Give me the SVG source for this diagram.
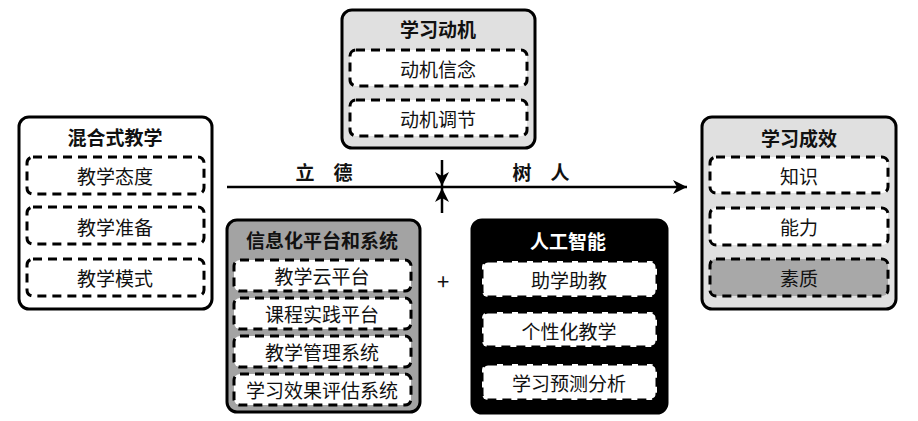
<svg xmlns="http://www.w3.org/2000/svg" width="918" height="421" viewBox="0 0 918 421">
<style>
.outer{stroke:#000;stroke-width:3;}
.item{fill:#fff;stroke:#000;stroke-width:3;stroke-dasharray:9 6;}
.t{font-family:"Noto Sans CJK SC","Liberation Sans",sans-serif;font-size:19px;text-anchor:middle;dominant-baseline:central;fill:#111;}
.h{font-weight:bold;}
.w{fill:#fff;}
.ln{stroke:#000;stroke-width:2.5;fill:none;}
</style>
<defs>
<marker id="arr" markerUnits="userSpaceOnUse" markerWidth="16" markerHeight="16" refX="14" refY="8" orient="auto">
<path d="M0,1 L14,8 L0,15 L4,8 z" fill="#000"/>
</marker>
</defs>
<rect width="918" height="421" fill="#fff"/>

<g id="connectors">
<line class="ln" x1="227" y1="187" x2="687" y2="187" marker-end="url(#arr)"/>
<line class="ln" x1="442" y1="160" x2="442" y2="186" marker-end="url(#arr)"/>
<line class="ln" x1="442" y1="213" x2="442" y2="188" marker-end="url(#arr)"/>
<text class="t h" x="305" y="171">立</text>
<text class="t h" x="343" y="171">德</text>
<text class="t h" x="522" y="171">树</text>
<text class="t h" x="560" y="171">人</text>
<text class="t" x="443" y="280" style="font-size:22px">+</text>
</g>

<g id="blended">
<rect class="outer" x="19" y="117" width="193" height="192" rx="10" fill="#fff"/>
<text class="t h" x="115" y="136">混合式教学</text>
<rect class="item" x="27" y="157" width="177" height="37" rx="6"/>
<text class="t" x="115" y="175">教学态度</text>
<rect class="item" x="27" y="207" width="177" height="37" rx="6"/>
<text class="t" x="115" y="226">教学准备</text>
<rect class="item" x="27" y="259" width="177" height="37" rx="6"/>
<text class="t" x="115" y="277">教学模式</text>
</g>

<g id="motivation">
<rect class="outer" x="342" y="10" width="193" height="138" rx="10" fill="#e0e0e0"/>
<text class="t h" x="438" y="28">学习动机</text>
<rect class="item" x="350" y="50" width="177" height="36" rx="6"/>
<text class="t" x="438" y="68">动机信念</text>
<rect class="item" x="350" y="100" width="177" height="36" rx="6"/>
<text class="t" x="438" y="118">动机调节</text>
</g>

<g id="platform">
<rect class="outer" x="227" y="220" width="193" height="192" rx="10" fill="#a3a3a3"/>
<text class="t h" x="322" y="239">信息化平台和系统</text>
<rect class="item" x="234" y="260" width="177" height="31" rx="6"/>
<text class="t" x="322" y="275">教学云平台</text>
<rect class="item" x="234" y="298" width="177" height="31" rx="6"/>
<text class="t" x="322" y="313">课程实践平台</text>
<rect class="item" x="234" y="336" width="177" height="31" rx="6"/>
<text class="t" x="322" y="351">教学管理系统</text>
<rect class="item" x="234" y="374" width="177" height="31" rx="6"/>
<text class="t" x="322" y="389">学习效果评估系统</text>
</g>

<g id="ai">
<rect class="outer" x="472" y="220" width="195" height="193" rx="10" fill="#000"/>
<text class="t h w" x="568" y="240">人工智能</text>
<rect class="item" x="482" y="261" width="175" height="36" rx="6"/>
<text class="t" x="569" y="279">助学助教</text>
<rect class="item" x="482" y="312" width="175" height="35" rx="6"/>
<text class="t" x="569" y="330">个性化教学</text>
<rect class="item" x="482" y="364" width="175" height="36" rx="6"/>
<text class="t" x="569" y="382">学习预测分析</text>
</g>

<g id="outcome">
<rect class="outer" x="702" y="117" width="194" height="192" rx="10" fill="#e0e0e0"/>
<text class="t h" x="799" y="137">学习成效</text>
<rect class="item" x="710" y="157" width="178" height="36" rx="6"/>
<text class="t" x="799" y="175">知识</text>
<rect class="item" x="710" y="208" width="178" height="37" rx="6"/>
<text class="t" x="799" y="226">能力</text>
<rect class="item" x="710" y="259" width="178" height="37" rx="6" style="fill:#a8a8a8"/>
<text class="t" x="799" y="277">素质</text>
</g>
</svg>
